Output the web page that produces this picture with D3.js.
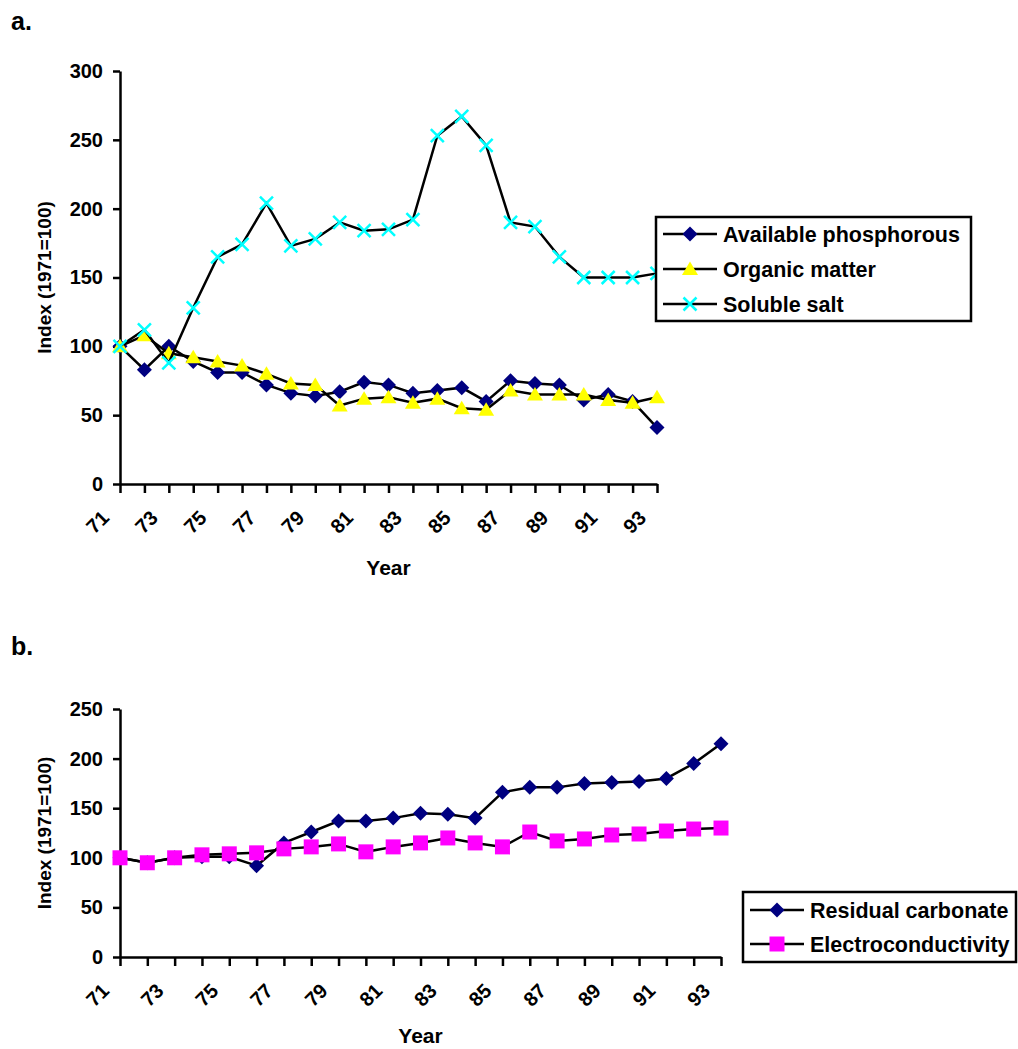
<!DOCTYPE html>
<meta charset="utf-8">
<html>
<head>
<title>Soil indices 1971-1993</title>
<style>
    body { margin: 0; background: white; }
    text { font-family: "Liberation Sans", Arial, sans-serif; font-weight: bold; fill: black; }
    .domain, .tick line { stroke: black; stroke-width: 2.5px; }
    path.series { fill: none; stroke: black; stroke-width: 2.5px; }
</style>
<script src="https://cdn.jsdelivr.net/npm/d3@7/dist/d3.min.js"></script>
</head>
<body>
<script>

    // years 1971..1993, label shown on every other year
    var years = [71, 72, 73, 74, 75, 76, 77, 78, 79, 80, 81, 82, 83, 84, 85, 86, 87, 88, 89, 90, 91, 92, 93];

    // panel a
    var phosphorous = [100, 83, 100, 89, 81, 81, 72, 66, 64, 67, 74, 72, 66, 68, 70, 60, 75, 73, 72, 61, 65, 60, 41];
    var organic     = [100, 108, 95, 92, 89, 86, 80, 73, 72, 57, 62, 63, 59, 62, 55, 54, 68, 65, 65, 65, 61, 59, 63];
    var salt        = [100, 112, 88, 128, 165, 174, 204, 173, 178, 190, 184, 185, 192, 253, 267, 246, 190, 187, 165, 150, 150, 150, 153];
    var ticksA = [0, 50, 100, 150, 200, 250, 300];

    // panel b
    var carbonate = [100, 95, 100, 101, 101, 92, 115, 126, 137, 137, 140, 145, 144, 140, 166, 171, 171, 175, 176, 177, 180, 195, 215];
    var electro   = [100, 95, 100, 103, 104, 105, 109, 111, 114, 106, 111, 115, 120, 115, 111, 126, 117, 119, 123, 124, 127, 129, 130];
    var ticksB = [0, 50, 100, 150, 200, 250];

    var width = 1018, height = 1049;

    var svg = d3.select("body").append("svg")
        .attr("width", width)
        .attr("height", height);

    // marker shapes, drawn around 0,0
    var markers = {
      diamond:  { d: "M0,-7.5L7.5,0L0,7.5L-7.5,0Z", fill: "#000080", stroke: "none" },
      triangle: { d: "M0,-7.5L8,6L-8,6Z", fill: "#ffff00", stroke: "none" },
      cross:    { d: "M-6.5,-6.5L6.5,6.5M6.5,-6.5L-6.5,6.5", fill: "none", stroke: "#00ffff" },
      square:   { d: "M-7.5,-7.5h15v15h-15Z", fill: "#ff00ff", stroke: "none" }
    };

    var drawMarker = function(g, m) {
      return g.append("path")
        .attr("d", m.d)
        .style("fill", m.fill)
        .style("stroke", m.stroke)
        .style("stroke-width", "2.5px");
    }

    var drawPanel = function(p) {
      var x = d3.scalePoint().domain(years).range([p.left, p.right]);
      var y = d3.scaleLinear().domain([0, p.max]).range([p.bottom, p.top]);

      var g = svg.append("g");

      // y axis
      var ya = g.append("g")
          .attr("transform", `translate(${p.left},0)`)
          .call(d3.axisLeft(y).tickValues(p.ticks).tickSize(7).tickPadding(10).tickSizeOuter(0));
      ya.selectAll("text").style("font-size", "20px");

      // x axis, rotated labels on odd years
      var xa = g.append("g")
          .attr("transform", `translate(0,${p.bottom})`)
          .call(d3.axisBottom(x).tickSize(9).tickSizeOuter(0)
                .tickFormat(function(d) { return (d % 2 == 1) ? d : ""; }));
      xa.selectAll("text")
          .attr("x", 0).attr("y", 0).attr("dy", "0.35em")
          .attr("text-anchor", "middle")
          .attr("transform", "translate(-23,38) rotate(-45)")
          .style("font-size", "20px");

      g.append("text")
          .attr("x", (p.left + p.right) / 2)
          .attr("y", p.bottom + p.yearGap)
          .attr("dy", "0.35em")
          .attr("text-anchor", "middle")
          .style("font-size", "21px")
          .text("Year");

      g.append("text")
          .attr("transform", `translate(51,${(p.top + p.bottom) / 2}) rotate(-90)`)
          .attr("text-anchor", "middle")
          .style("font-size", "19px")
          .text("Index (1971=100)");

      g.append("text")
          .attr("x", 11).attr("y", p.top - p.labelGap)
          .style("font-size", "25px")
          .text(p.label);

      // series: line then markers
      p.series.forEach(function(s) {
        var line = d3.line()
            .x(function(d, i) { return x(years[i]); })
            .y(function(d) { return y(d); });
        g.append("path").attr("class", "series").attr("d", line(s.values));
        s.values.forEach(function(v, i) {
          drawMarker(g, markers[s.marker])
            .attr("transform", `translate(${x(years[i])},${y(v)})`);
        });
      });

      // legend
      var lg = g.append("g").attr("transform", `translate(${p.legend[0]},${p.legend[1]})`);
      lg.append("rect")
          .attr("width", p.legend[2]).attr("height", p.legend[3])
          .style("fill", "white").style("stroke", "black").style("stroke-width", "2.5px");
      p.series.forEach(function(s, i) {
        var cy = p.legendRow0 + i * p.legendStep;
        lg.append("line")
            .attr("x1", 7).attr("x2", 61).attr("y1", cy).attr("y2", cy)
            .style("stroke", "black").style("stroke-width", "2.5px");
        drawMarker(lg, markers[s.marker]).attr("transform", `translate(34,${cy})`);
        lg.append("text")
            .attr("x", 67).attr("y", cy).attr("dy", "0.36em")
            .style("font-size", "21.5px")
            .text(s.name);
      });
    }

    drawPanel({
      label: "a.", labelGap: 41, yearGap: 84,
      left: 120, right: 657, top: 71, bottom: 484, max: 300, ticks: ticksA,
      legend: [656, 217, 315, 104], legendRow0: 17, legendStep: 35,
      series: [
        { name: "Available phosphorous", values: phosphorous, marker: "diamond" },
        { name: "Organic matter", values: organic, marker: "triangle" },
        { name: "Soluble salt", values: salt, marker: "cross" }
      ]
    });

    drawPanel({
      label: "b.", labelGap: 54, yearGap: 79,
      left: 120, right: 721, top: 709, bottom: 957, max: 250, ticks: ticksB,
      legend: [743, 892, 273, 70], legendRow0: 18, legendStep: 34,
      series: [
        { name: "Residual carbonate", values: carbonate, marker: "diamond" },
        { name: "Electroconductivity", values: electro, marker: "square" }
      ]
    });

</script>
</body>
</html>
